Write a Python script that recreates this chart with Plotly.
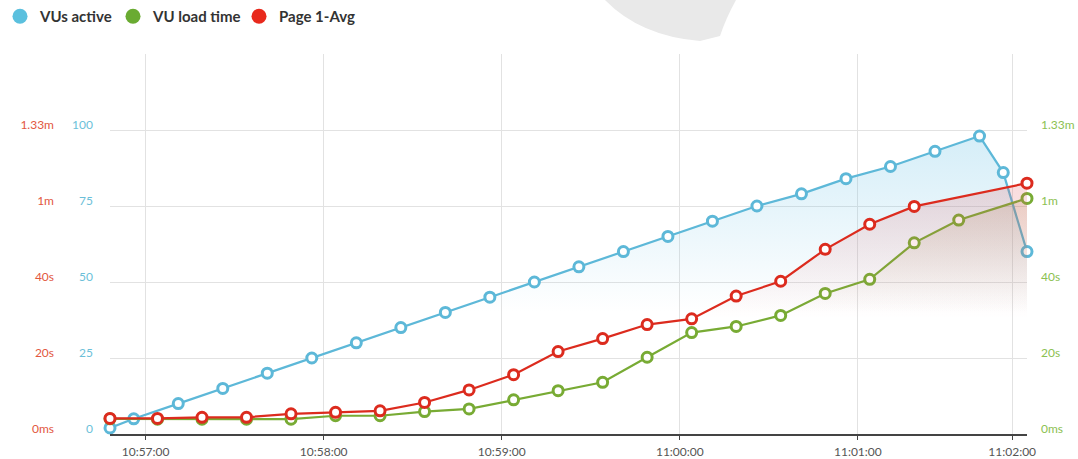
import plotly.graph_objects as go

DAY = "2024-01-01 "

# ---- data ----
vu_times = ["10:56:48", "10:56:56", "10:57:11", "10:57:26", "10:57:41", "10:57:56",
            "10:58:11", "10:58:26", "10:58:41", "10:58:56", "10:59:11", "10:59:26",
            "10:59:41", "10:59:56", "11:00:11", "11:00:26", "11:00:41", "11:00:56",
            "11:01:11", "11:01:26", "11:01:41", "11:01:49", "11:01:57"]
vus_active = [2, 5, 10, 15, 20, 25, 30, 35, 40, 45, 50, 55, 60, 65, 70, 75, 79, 84,
              88, 93, 98, 86, 60]

page_times = ["10:56:48", "10:57:04", "10:57:19", "10:57:34", "10:57:49", "10:58:04",
              "10:58:19", "10:58:34", "10:58:49", "10:59:04", "10:59:19", "10:59:34",
              "10:59:49", "11:00:04", "11:00:19", "11:00:34", "11:00:49", "11:01:04",
              "11:01:19", "11:01:57"]
page_avg_s = [4.1, 4.1, 4.4, 4.4, 5.3, 5.7, 6.1, 8.3, 11.6, 15.6, 21.7, 25.1, 28.8,
              30.3, 36.3, 40.2, 48.6, 55.2, 59.9, 66.0]

load_times = ["10:56:48", "10:57:04", "10:57:19", "10:57:34", "10:57:49", "10:58:04",
              "10:58:19", "10:58:34", "10:58:49", "10:59:04", "10:59:19", "10:59:34",
              "10:59:49", "11:00:04", "11:00:19", "11:00:34", "11:00:49", "11:01:04",
              "11:01:19", "11:01:34", "11:01:57"]
vu_load_s = [4.0, 3.9, 3.9, 3.9, 3.9, 4.8, 4.8, 5.9, 6.6, 9.0, 11.4, 13.6, 20.2, 26.7,
             28.3, 31.2, 37.0, 40.7, 50.3, 56.3, 62.0]

x_tick_pos = ["10:57:00", "10:58:00", "10:59:00", "11:00:00", "11:01:00", "11:01:52"]
x_tick_text = ["10:57:00", "10:58:00", "10:59:00", "11:00:00", "11:01:00", "11:02:00"]
vu_ticks = [0, 25, 50, 75, 100, 125]
vu_tick_text = ["0", "25", "50", "75", "100", ""]
time_ticks = [0, 20, 40, 60, 80]
time_tick_text = ["0ms", "20s", "40s", "1m", "1.33m"]
legend_names = ["VUs active", "VU load time", "Page 1-Avg"]

# ---- styles ----
BLUE = "#5db8d8"
GREEN = "#78ab34"
RED = "#dc2b1e"
FONT = "Lato"

def d(ts):
    return [DAY + t for t in ts]

fig = go.Figure()

def series(x, y, axis, color, fillrgb, alpha, lo, hi, cut):
    fig.add_trace(go.Scatter(
        x=d(x), y=y, yaxis=axis, mode="lines+markers", showlegend=False,
        line=dict(color=color, width=2.2),
        marker=dict(symbol="circle", size=10, color="white",
                    line=dict(color=color, width=3)),
        fill="tozeroy",
        fillgradient=dict(type="vertical", start=lo, stop=hi,
                          colorscale=[[0, f"rgba({fillrgb},0)"],
                                      [cut, f"rgba({fillrgb},0)"],
                                      [1, f"rgba({fillrgb},{alpha})"]]),
        cliponaxis=False, hoverinfo="x+y"))

series(vu_times, vus_active, "y", BLUE, "110,195,230", 0.3, 0, 100, 0.4)
series(load_times, vu_load_s, "y2", GREEN, "160,120,60", 0.3, 0, 80, 0.4)
series(page_times, page_avg_s, "y3", RED, "225,90,95", 0.3, 0, 80, 0.38)

for name, col, lw in zip(legend_names, ["#5bc0de", "#6aab32", "#e8291c"], [68, 81, 80]):
    fig.add_trace(go.Scatter(x=[None], y=[None], mode="markers", name=name,
                             legendwidth=lw, marker=dict(size=15, color=col)))

def px2paper(px, py):
    return (px - 110) / 917, (434 - py) / 380

pts = [(605, 0), (640, 36), (700, 41), (720, 36), (726, 18), (736, 0)]
p = [px2paper(a, b) for a, b in pts]
path = (f"M {p[0][0]},{p[0][1]} Q {p[1][0]},{p[1][1]} {p[2][0]},{p[2][1]} "
        f"L {p[3][0]},{p[3][1]} Q {p[4][0]},{p[4][1]} {p[5][0]},{p[5][1]} Z")

fig.update_layout(
    width=1078, height=459,
    margin=dict(l=110, r=51, t=54, b=25, pad=0, autoexpand=False),
    paper_bgcolor="white", plot_bgcolor="white",
    font=dict(family=FONT, size=12, color="#555"),
    shapes=[dict(type="path", path=path, xref="paper", yref="paper",
                 fillcolor="#e9e9e9", line=dict(width=0), layer="below")],
    legend=dict(orientation="h", xref="container", yref="container",
                x=-0.003, y=1.0, xanchor="left", yanchor="top",
                font=dict(family=FONT, size=15, color="#333", weight=700),
                bgcolor="rgba(0,0,0,0)", itemclick=False),
    xaxis=dict(type="date", range=[DAY + vu_times[0], DAY + vu_times[-1]],
               tickvals=d(x_tick_pos), ticktext=x_tick_text, automargin=False,
               showgrid=True, gridcolor="#e2e2e2", gridwidth=1,
               showline=True, linecolor="#444", linewidth=1.5,
               ticks="outside", ticklen=4, tickcolor="#444", tickwidth=1.2,
               tickfont=dict(family=FONT, size=12, color="#555"),
               ticklabelstandoff=2, zeroline=False),
    yaxis=dict(range=[0, 125], tickvals=vu_ticks, ticktext=vu_tick_text,
               showgrid=True, gridcolor="#e2e2e2", gridwidth=1, zeroline=False,
               showline=False, ticks="", automargin=False,
               tickfont=dict(family=FONT, size=12, color="#6cbfd9"),
               ticklabelstandoff=16, ticklabelshift=-5),
    yaxis2=dict(overlaying="y", side="right", anchor="x", range=[0, 100],
                tickvals=time_ticks, ticktext=time_tick_text, showgrid=False,
                zeroline=False, showline=False, ticks="", automargin=False,
                tickfont=dict(family=FONT, size=12, color="#8cc152"),
                ticklabelstandoff=13, ticklabelshift=-5),
    yaxis3=dict(overlaying="y", side="left", anchor="x", range=[0, 100],
                tickvals=time_ticks, ticktext=time_tick_text, showgrid=False,
                zeroline=False, showline=False, ticks="", automargin=False,
                tickfont=dict(family=FONT, size=12, color="#e2573f"),
                ticklabelstandoff=55, ticklabelshift=-5),
)

fig.write_html("out.html")
